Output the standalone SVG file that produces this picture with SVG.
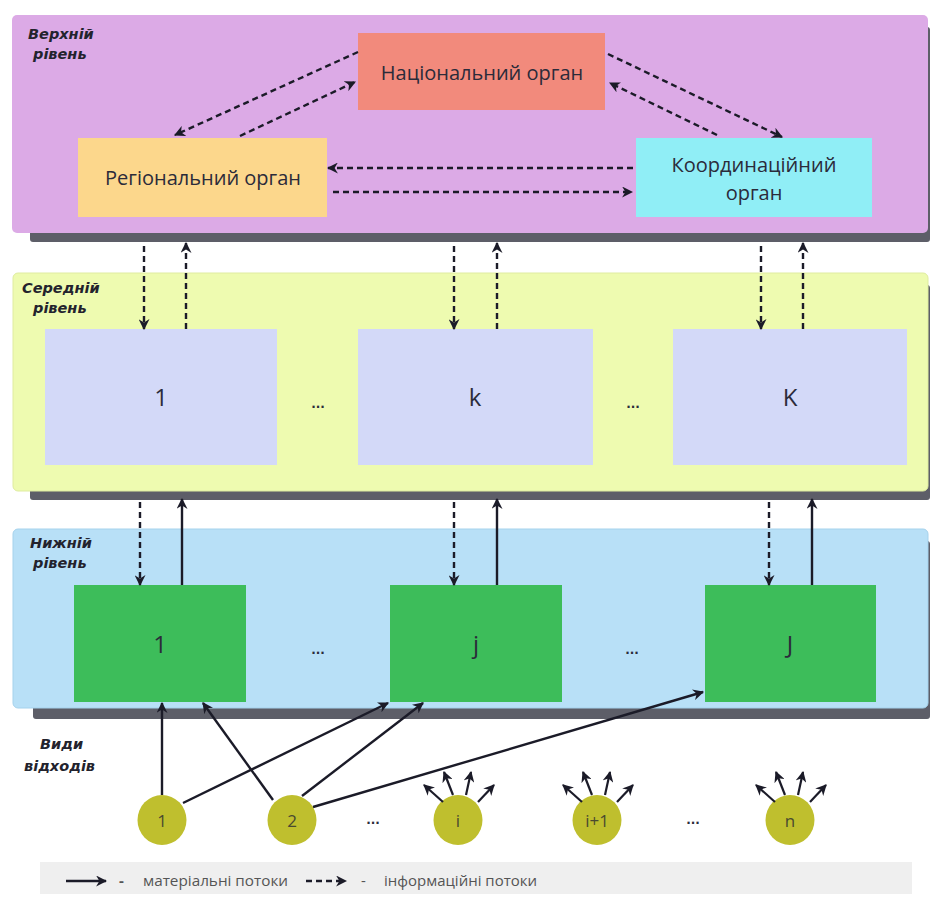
<svg xmlns="http://www.w3.org/2000/svg" width="930" height="900" viewBox="0 0 930 900">
  <style>
    .lvl { font-family: "DejaVu Sans", sans-serif; font-weight: bold; font-style: italic; font-size: 14.5px; fill: #23232d; }
    .box { font-family: "Open Sans", "Noto Sans", sans-serif; font-size: 20px; fill: #2b2b3a; text-anchor: middle; }
    .num { font-family: "Open Sans", "Noto Sans", sans-serif; font-size: 24px; fill: #2b2b3a; text-anchor: middle; }
    .cnum { font-family: "Open Sans", "Noto Sans", sans-serif; font-size: 17px; fill: #4a4a30; text-anchor: middle; }
    .dots { font-family: "DejaVu Sans", sans-serif; font-size: 12px; font-weight: bold; fill: #2b2b3a; text-anchor: middle; }
    .leg { font-family: "Open Sans", "Noto Sans", sans-serif; font-size: 15px; fill: #555; }
    .shadow { fill: #5d5e68; }
    .info { fill: none; stroke: #1b1b28; stroke-width: 2.4; stroke-dasharray: 6 4; }
    .mat { fill: none; stroke: #1b1b28; stroke-width: 2.4; }
    .fan { fill: none; stroke: #1b1b28; stroke-width: 2.2; }
  </style>
  <defs>
    <marker id="ah" viewBox="0 0 10 10" refX="9" refY="5" markerWidth="11" markerHeight="11" markerUnits="userSpaceOnUse" orient="auto">
      <path d="M0,0 L10,5 L0,10 L3,5 z" fill="#1b1b28"/>
    </marker>
  </defs>

  <rect width="930" height="900" fill="#ffffff"/>

  <!-- upper level -->
  <g id="level-upper">
    <rect class="shadow" x="30" y="27" width="900" height="215" rx="3"/>
    <rect x="12" y="15" width="916" height="218" rx="5" fill="#dcaae6"/>
    <text class="lvl" x="28" y="39">Верхній</text>
    <text class="lvl" x="33" y="59">рівень</text>
  </g>

  <!-- middle level -->
  <g id="level-middle">
    <rect class="shadow" x="30" y="285" width="900" height="215" rx="3"/>
    <rect x="13" y="273" width="915" height="218" rx="5" fill="#eefbb0" stroke="#dfeca0" stroke-width="1"/>
    <text class="lvl" x="22" y="293">Середній</text>
    <text class="lvl" x="33" y="313">рівень</text>
  </g>

  <!-- lower level -->
  <g id="level-lower">
    <rect class="shadow" x="33" y="541" width="897" height="178" rx="3"/>
    <rect x="13" y="529" width="915" height="179" rx="5" fill="#b8e0f7" stroke="#a5d2ec" stroke-width="1"/>
    <text class="lvl" x="30" y="548">Нижній</text>
    <text class="lvl" x="33" y="568">рівень</text>
  </g>

  <!-- upper level bodies -->
  <g id="national">
    <rect x="358" y="33" width="247" height="77" fill="#f28a7c"/>
    <text class="box" x="482" y="80">Національний орган</text>
  </g>
  <g id="regional">
    <rect x="78" y="138" width="249" height="79" fill="#fcd78c"/>
    <text class="box" x="203" y="185">Регіональний орган</text>
  </g>
  <g id="coordination">
    <rect x="636" y="138" width="236" height="79" fill="#90eef6"/>
    <text class="box" x="754" y="172">Координаційний</text>
    <text class="box" x="754" y="200">орган</text>
  </g>

  <!-- middle level units -->
  <g id="mid-1">
    <rect x="45" y="329" width="232" height="136" fill="#d3d9f8"/>
    <text class="num" x="161" y="406">1</text>
  </g>
  <g id="mid-k">
    <rect x="358" y="329" width="235" height="136" fill="#d3d9f8"/>
    <text class="num" x="475" y="406">k</text>
  </g>
  <g id="mid-K">
    <rect x="673" y="329" width="234" height="136" fill="#d3d9f8"/>
    <text class="num" x="790" y="406">K</text>
  </g>
  <text class="dots" x="318" y="408">...</text>
  <text class="dots" x="633" y="408">...</text>

  <!-- lower level units -->
  <g id="low-1">
    <rect x="74" y="585" width="172" height="117" fill="#3dbd5a"/>
    <text class="num" x="160" y="653">1</text>
  </g>
  <g id="low-j">
    <rect x="390" y="585" width="172" height="117" fill="#3dbd5a"/>
    <text class="num" x="476" y="653">j</text>
  </g>
  <g id="low-J">
    <rect x="705" y="585" width="171" height="117" fill="#3dbd5a"/>
    <text class="num" x="790" y="653">J</text>
  </g>
  <text class="dots" x="318" y="654">...</text>
  <text class="dots" x="632" y="654">...</text>

  <!-- waste types -->
  <g id="waste-label">
    <text class="lvl" x="40" y="749">Види</text>
    <text class="lvl" x="24" y="771">відходів</text>
  </g>
  <g id="waste-1">
    <ellipse cx="162" cy="820" rx="24.5" ry="25" fill="#bfbf2e"/>
    <text class="cnum" x="162" y="827">1</text>
  </g>
  <g id="waste-2">
    <ellipse cx="292" cy="820" rx="24.5" ry="25" fill="#bfbf2e"/>
    <text class="cnum" x="292" y="827">2</text>
  </g>
  <g id="waste-i">
    <ellipse cx="458" cy="820" rx="24.5" ry="25" fill="#bfbf2e"/>
    <text class="cnum" x="458" y="827">i</text>
  </g>
  <g id="waste-i1">
    <ellipse cx="597" cy="820" rx="24.5" ry="25" fill="#bfbf2e"/>
    <text class="cnum" x="597" y="827">i+1</text>
  </g>
  <g id="waste-n">
    <ellipse cx="790" cy="820" rx="24.5" ry="25" fill="#bfbf2e"/>
    <text class="cnum" x="790" y="827">n</text>
  </g>
  <text class="dots" x="373" y="824">...</text>
  <text class="dots" x="693" y="824">...</text>

  <!-- connectors -->
  <g id="connectors">
    <!-- upper level information flows -->
    <line class="info" x1="358" y1="52" x2="175" y2="135" marker-end="url(#ah)"/>
    <line class="info" x1="240" y1="136" x2="355" y2="82" marker-end="url(#ah)"/>
    <line class="info" x1="608" y1="54" x2="782" y2="137" marker-end="url(#ah)"/>
    <line class="info" x1="717" y1="135" x2="610" y2="83" marker-end="url(#ah)"/>
    <line class="info" x1="633" y1="168" x2="328" y2="168" marker-end="url(#ah)"/>
    <line class="info" x1="333" y1="192" x2="632" y2="192" marker-end="url(#ah)"/>

    <!-- upper to middle -->
    <line class="info" x1="144" y1="246" x2="144" y2="329" marker-end="url(#ah)"/>
    <line class="info" x1="186" y1="329" x2="186" y2="243" marker-end="url(#ah)"/>
    <line class="info" x1="454" y1="246" x2="454" y2="329" marker-end="url(#ah)"/>
    <line class="info" x1="497" y1="329" x2="497" y2="243" marker-end="url(#ah)"/>
    <line class="info" x1="761" y1="246" x2="761" y2="329" marker-end="url(#ah)"/>
    <line class="info" x1="803" y1="329" x2="803" y2="243" marker-end="url(#ah)"/>

    <!-- middle to lower -->
    <line class="info" x1="140" y1="502" x2="140" y2="585" marker-end="url(#ah)"/>
    <line class="mat" x1="182" y1="585" x2="182" y2="499" marker-end="url(#ah)"/>
    <line class="info" x1="454" y1="502" x2="454" y2="585" marker-end="url(#ah)"/>
    <line class="mat" x1="497" y1="585" x2="497" y2="499" marker-end="url(#ah)"/>
    <line class="info" x1="769" y1="502" x2="769" y2="585" marker-end="url(#ah)"/>
    <line class="mat" x1="812" y1="585" x2="812" y2="499" marker-end="url(#ah)"/>

    <!-- waste to lower level units -->
    <line class="mat" x1="162" y1="795" x2="162" y2="703" marker-end="url(#ah)"/>
    <line class="mat" x1="183" y1="803" x2="388" y2="703" marker-end="url(#ah)"/>
    <line class="mat" x1="273" y1="800" x2="203" y2="703" marker-end="url(#ah)"/>
    <line class="mat" x1="302" y1="796" x2="423" y2="703" marker-end="url(#ah)"/>
    <line class="mat" x1="313" y1="807" x2="703" y2="692" marker-end="url(#ah)"/>

    <!-- outgoing fans -->
    <g transform="translate(458,820)">
      <line class="fan" x1="-15" y1="-18" x2="-34" y2="-35" marker-end="url(#ah)"/>
      <line class="fan" x1="-5" y1="-25" x2="-14" y2="-48" marker-end="url(#ah)"/>
      <line class="fan" x1="8" y1="-25" x2="13" y2="-48" marker-end="url(#ah)"/>
      <line class="fan" x1="20" y1="-18" x2="36" y2="-35" marker-end="url(#ah)"/>
    </g>
    <g transform="translate(597,820)">
      <line class="fan" x1="-15" y1="-18" x2="-34" y2="-35" marker-end="url(#ah)"/>
      <line class="fan" x1="-5" y1="-25" x2="-14" y2="-48" marker-end="url(#ah)"/>
      <line class="fan" x1="8" y1="-25" x2="13" y2="-48" marker-end="url(#ah)"/>
      <line class="fan" x1="20" y1="-18" x2="36" y2="-35" marker-end="url(#ah)"/>
    </g>
    <g transform="translate(790,820)">
      <line class="fan" x1="-15" y1="-18" x2="-34" y2="-35" marker-end="url(#ah)"/>
      <line class="fan" x1="-5" y1="-25" x2="-14" y2="-48" marker-end="url(#ah)"/>
      <line class="fan" x1="8" y1="-25" x2="13" y2="-48" marker-end="url(#ah)"/>
      <line class="fan" x1="20" y1="-18" x2="36" y2="-35" marker-end="url(#ah)"/>
    </g>
  </g>

  <!-- legend -->
  <g id="legend">
    <rect x="40" y="862" width="872" height="32" fill="#efefef"/>
    <line class="mat" x1="66" y1="881" x2="106" y2="881" marker-end="url(#ah)"/>
    <text class="leg" x="119" y="886" font-weight="bold">-</text>
    <text class="leg" x="143" y="886" textLength="145" lengthAdjust="spacingAndGlyphs">матеріальні потоки</text>
    <line class="info" x1="306" y1="881" x2="346" y2="881" marker-end="url(#ah)"/>
    <text class="leg" x="361" y="886">-</text>
    <text class="leg" x="384" y="886" textLength="153" lengthAdjust="spacingAndGlyphs">інформаційні потоки</text>
  </g>
</svg>
